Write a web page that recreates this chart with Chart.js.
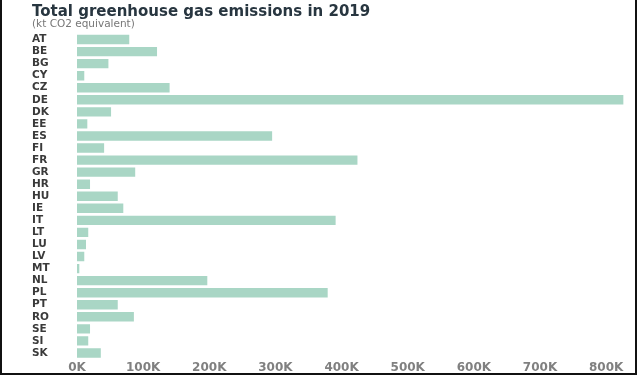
<!DOCTYPE html>
<html>
<head>
<meta charset="utf-8">
<script src="https://cdn.jsdelivr.net/npm/chart.js@4"></script>
<style>
  html, body { margin: 0; padding: 0; background: #fff; }
  .frame {
    width: 637px; height: 375px; box-sizing: border-box;
    border-left: 2px solid #111; border-right: 2px solid #111; border-bottom: 2px solid #111;
    position: relative;
  }
  .frame canvas { display: block; }
</style>
</head>
<body>
<div class="frame">
  <canvas id="ghgChart" width="633" height="373"></canvas>
</div>
<script>
const countries = ['AT', 'BE', 'BG', 'CY', 'CZ', 'DE', 'DK', 'EE', 'ES', 'FI', 'FR', 'GR', 'HR',
  'HU', 'IE', 'IT', 'LT', 'LU', 'LV', 'MT', 'NL', 'PL', 'PT', 'RO', 'SE', 'SI', 'SK'];
const emissions = [79000, 121000, 47500, 11000, 140000, 826000, 51500, 15600, 295000, 41000, 424000, 88000, 19700,
  61600, 70000, 391000, 17000, 13600, 11000, 3500, 197000, 379000, 61600, 86000, 19700, 17000, 36000];
const tickValues = [0, 100000, 200000, 300000, 400000, 500000, 600000, 700000, 800000];
const tickLabels = ['0K', '100K', '200K', '300K', '400K', '500K', '600K', '700K', '800K'];

const font = "'DejaVu Sans', sans-serif";

new Chart(document.getElementById('ghgChart'), {
  type: 'bar',
  data: {
    labels: countries,
    datasets: [{
      data: emissions,
      backgroundColor: '#a9d6c5',
      borderWidth: 0,
      barPercentage: 0.78,
      categoryPercentage: 1
    }]
  },
  options: {
    indexAxis: 'y',
    responsive: false,
    animation: false,
    layout: {
      padding: { left: 30, right: 9, top: 4.5, bottom: 0 }
    },
    plugins: {
      legend: { display: false },
      tooltip: { enabled: false },
      title: {
        display: true,
        text: 'Total greenhouse gas emissions in 2019',
        align: 'start',
        color: '#283640',
        font: { family: font, size: 15, weight: 'bold', lineHeight: 1 },
        padding: { top: 0, bottom: 0 }
      },
      subtitle: {
        display: true,
        text: '(kt CO2 equivalent)',
        align: 'start',
        color: '#777',
        font: { family: font, size: 10.5, lineHeight: 1 },
        padding: { top: 0, bottom: 3.5 }
      }
    },
    scales: {
      x: {
        min: 0,
        max: 830000,
        grid: { display: false, drawTicks: false },
        border: { display: false },
        afterFit: axis => { axis.height = 14; },
        afterBuildTicks: axis => {
          axis.ticks = tickValues.map(v => ({ value: v }));
        },
        ticks: {
          padding: 2,
          color: '#808080',
          font: { family: font, size: 12, weight: 'bold' },
          callback: (value, i) => tickLabels[i]
        }
      },
      y: {
        grid: { display: false, drawTicks: false },
        border: { display: false },
        afterFit: axis => { axis.width = 45; },
        ticks: {
          crossAlign: 'far',
          padding: 0,
          autoSkip: false,
          color: '#3a3a3a',
          font: { family: font, size: 10.5, weight: 'bold' }
        }
      }
    }
  }
});
</script>
</body>
</html>
